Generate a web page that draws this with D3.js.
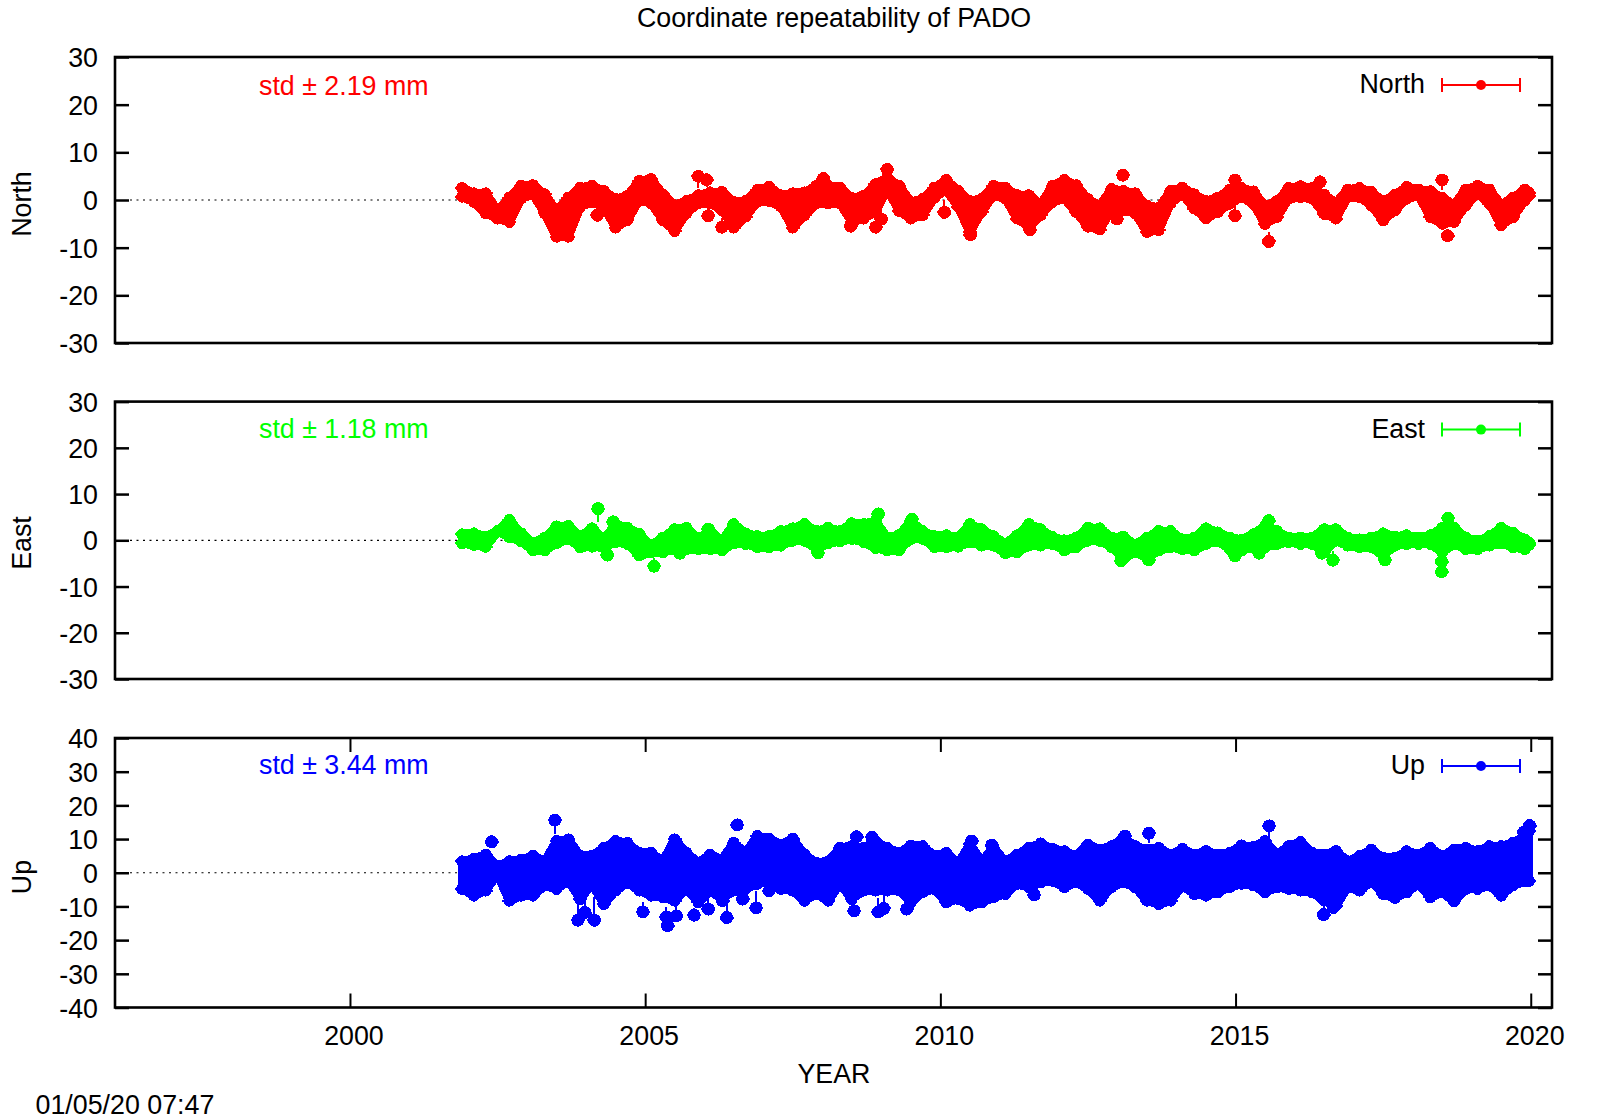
<!DOCTYPE html>
<html>
<head>
<meta charset="utf-8">
<title>Coordinate repeatability of PADO</title>
<script src="https://cdn.jsdelivr.net/npm/d3@7"></script>
<style>
  html, body { margin: 0; background: #fff; }
  text { font-family: "Liberation Sans", Arial, sans-serif; font-size: 26.8px; fill: #000; }
</style>
</head>
<body>
<div id="chart"></div>
<script>
// sampling years of the daily cloud
var years = [2001.9,2002.1,2002.3,2002.5,2002.7,2002.9,2003.1,2003.3,2003.5,2003.7,2003.9,2004.1,2004.3,2004.5,2004.7,2004.9,
  2005.1,2005.3,2005.5,2005.7,2005.9,2006.1,2006.3,2006.5,2006.7,2006.9,2007.1,2007.3,2007.5,2007.7,2007.9,2008.1,
  2008.3,2008.5,2008.7,2008.9,2009.1,2009.3,2009.5,2009.7,2009.9,2010.1,2010.3,2010.5,2010.7,2010.9,2011.1,2011.3,
  2011.5,2011.7,2011.9,2012.1,2012.3,2012.5,2012.7,2012.9,2013.1,2013.3,2013.5,2013.7,2013.9,2014.1,2014.3,2014.5,2014.7,
  2014.9,2015.1,2015.3,2015.5,2015.7,2015.9,2016.1,2016.3,2016.5,2016.7,2016.9,2017.1,2017.3,2017.5,2017.7,2017.9,
  2018.1,2018.3,2018.5,2018.7,2018.9,2019.1,2019.3,2019.5,2019.7,2019.9,2019.97];

var northHigh = [2.5,1.4,1.4,-2.3,.5,3.0,3.1,1.2,-2.3,.5,2.6,3.0,1.9,.2,.9,4.0,
  4.4,1.2,-1.1,-.2,1.0,1.6,1.7,-.4,-.2,2.1,2.8,1.0,1.4,1.6,3.0,3.0,
  2.6,.4,.9,3.3,4.7,3.0,-.4,.2,2.6,4.2,1.9,-.2,.2,3.0,2.6,1.0,
  1.0,-.9,3.0,4.2,3.1,.2,-1.2,2.3,1.9,1.4,-1.2,-1.6,1.9,2.6,1.2,-.2,.5,
  2.2,2.5,1.8,-1.2,-.25,2.5,2.9,2.5,1.15,-.6,2.2,2.5,1.7,-.25,1.15,2.75,
  2.2,1.85,.45,-.95,2.2,3.0,2.2,-.95,.45,2.2,1.5];
var northLow = [.7,-.4,-2.8,-3.9,-4.6,.3,1.2,-2.8,-7.7,-7.7,-1.4,-.4,-1.4,-5.8,-4.2,0,
  -.7,-4.2,-6.5,-2.8,-.7,-.7,-2.1,-5.8,-3.5,-.4,-.2,-1.4,-5.8,-3.2,-.7,-.7,
  -.7,-4.6,-3.9,-2.5,2.4,-2.3,-3.9,-3.2,.5,2.1,-1.4,-6.7,-2.5,1.0,.3,-3.9,
  -5.6,-3.2,-.4,.3,-2.5,-5.6,-6.2,-2.1,-2.1,-2.8,-6.7,-6.3,-.7,1.2,-1.8,-3.9,-2.5,
  -.8,.6,-.8,-5,-3.6,.25,.6,.25,-2.9,-3.9,.6,.6,-1.15,-4.3,-2.2,.25,
  .95,-3.6,-5,-4.6,-1.15,1.3,-.8,-5.3,-3.6,-.1,.9];
// year, value, length of the error bar running back to the cloud
var northOutliers = [[2004.19,-3.2,.5],[2005.90,4.96,2.5],[2006.04,4.27,1.5],[2006.07,-3.3,1.5],[2006.30,-5.7,2],
  [2008.02,4.5,.5],[2008.48,-5.5,.5],[2008.905,-5.7,4],[2009.0,-4.0,3],[2009.10,6.4,1],[2010.07,-2.6,2.5],
  [2010.51,-7.3,1],[2011.52,-6.2,.5],[2012.99,-4.0,2],[2013.09,5.2,1.5],[2014.99,-3.3,2.5],[2014.99,4.2,.5],
  [2015.56,-8.7,2],[2016.43,3.8,.5],[2018.50,4.2,2],[2018.59,-7.5,1]];

var eastHigh = [1.3,1.5,.8,2.0,4.4,1.5,-.5,.6,3.0,3.1,.9,2.6,.2,3.5,2.7,1.4,
  -1.1,.6,2.4,2.7,.4,2.0,-.15,3.5,1.5,.9,.9,2.0,2.6,3.5,2.0,2.7,
  2.0,3.7,3.5,4.2,.6,1.1,4.2,2.0,.9,1.1,.6,3.5,2.4,.9,-.7,1.1,
  3.5,2.4,.7,0,.6,2.7,2.6,.6,.8,-.9,.6,2.0,2.0,.2,.6,2.6,1.7,
  .6,.1,1.3,3.1,2.0,.6,.6,.6,2.4,2.4,.6,.2,.6,1.5,.8,1.1,
  .6,1.1,2.7,2.7,.6,-.15,.9,2.7,1.7,.2,-.5];
var eastLow = [-.65,-1.0,-1.4,1.9,.65,-.2,-2.2,-2.2,-.65,.3,-1.5,-1.4,-1.5,-.4,-.8,-3.3,
  -2.6,-2.6,-1.9,-1.9,-1.9,-1.9,-2.2,-.65,-.8,-1.5,-1.5,-1.15,-.1,-.1,-1.9,-.65,
  -.2,.3,-.4,-1.65,-2.2,-2.2,.3,.3,-1.5,-1.5,-1.4,-.4,-1.15,-1.15,-2.8,-2.6,
  -1.15,-1.15,-.8,-2.2,-1.5,-.1,-.1,-1.5,-4.0,-2.6,-3.8,-2.2,-1.5,-1.9,-2.2,-.8,-.2,
  -1.9,-2.2,-1.5,-1.5,-.8,-.4,-.8,-.8,-2.6,-.1,-1.15,-1.5,-1.5,-3.3,-1.15,-.8,
  -.8,-.8,-2.6,-.8,-1.9,-1.9,-1.15,-.65,-1.5,-1.9,-1.0];
var eastOutliers = [[2004.20,6.85,2.8],[2004.36,-3.2,.5],[2004.46,4.0,.5],[2005.15,-5.6,1.8],[2005.59,-2.8,.5],[2006.07,2.4,1],
  [2007.93,-2.7,.5],[2008.95,5.7,1.2],[2009.52,4.5,.5],[2013.06,-4.4,.5],[2013.53,-4.25,.5],[2014.99,-3.4,.5],
  [2015.40,-2.8,.5],[2015.56,4.25,1],[2016.46,-2.8,.5],[2016.65,-4.3,2],[2017.53,-4.25,.5],[2018.49,-6.8,2],
  [2018.49,-4.6,1],[2018.60,4.75,1]];

var upHigh = [3.4,4.1,5.4,2.0,3.4,3.9,5.0,3.4,9.4,9.9,5.0,5.0,7.4,9.4,8.9,5.9,
  5.9,3.4,9.9,5.9,3.0,5.4,3.9,8.9,5.9,10.9,10.1,8.4,10.1,5.4,3.0,3.4,
  7.4,7.9,7.4,9.4,7.4,5.9,8.1,7.9,5.0,5.9,2.8,8.4,3.4,7.4,3.4,5.4,
  7.4,8.7,7.1,6.4,5.0,8.4,6.9,7.9,10.4,7.9,6.9,7.4,5.4,7.1,5.4,6.4,5.4,
  5.9,8.1,7.6,9.4,5.4,7.9,9.1,5.9,5.4,6.4,3.4,5.0,6.9,4.4,4.4,6.4,
  5.4,7.4,5.0,6.9,7.4,6.4,7.9,7.9,8.9,10.9,12.4];
var upLow = [-4.8,-6.8,-5.3,-.4,-8.3,-6.8,-6.8,-3.8,-4.8,-2.4,-7.8,-3.3,-9.3,-5.3,-2.9,-5.3,
  -6.8,-7.3,-8.3,-4.8,-8.8,-5.3,-7.8,-5.3,-4.8,-3.3,-2.4,-4.8,-5.3,-8.3,-6.3,-8.3,
  -3.3,-7.8,-5.3,-5.3,-5.3,-5.3,-8.8,-5.8,-4.8,-8.8,-7.8,-9.8,-8.8,-7.3,-6.3,-3.3,
  -4.3,-2.9,-2.4,-4.3,-2.9,-4.8,-8.3,-4.3,-2.9,-4.3,-8.3,-9.3,-8.3,-3.8,-6.3,-6.8,-5.8,
  -4.3,-3.3,-3.8,-5.8,-4.3,-4.8,-5.3,-5.8,-8.3,-9.8,-4.3,-5.3,-2.6,-6.3,-7.5,-5.8,
  -3.3,-7.3,-5.8,-8.5,-4.8,-4.8,-3.8,-6.8,-3.8,-2.6,-2.4];
var upOutliers = [[2002.40,9.2,1],[2003.47,15.6,4],[2003.86,-14.1,5],[2003.98,-11.8,5],[2004.14,-14.1,7],[2004.96,-11.6,3],
  [2005.36,-13.1,3],[2005.38,-15.7,2],[2005.53,-12.8,4],[2005.83,-12.6,2],[2006.07,-10.8,3],[2006.31,-8.3,1],
  [2006.38,-13.3,6],[2006.56,14.2,1.5],[2006.65,-7.8,3],[2006.88,-10.4,5],[2007.10,-5.3,1],[2008.54,-11.3,2],
  [2008.58,10.7,1],[2008.84,10.5,1],[2008.95,-11.6,4],[2009.04,-10.6,4],[2009.43,-10.8,1],[2010.53,9.4,2.5],
  [2010.87,8.2,1],[2011.59,-6.6,1],[2013.13,10.9,1],[2013.53,11.7,3],[2015.57,13.9,4],[2016.49,-12.4,2.5],
  [2016.66,-10.3,1],[2019.88,12.0,2],[2019.98,14.0,2]];

var yTicksHoriz = [-30,-20,-10,0,10,20,30];
var yTicksUp = [-40,-30,-20,-10,0,10,20,30,40];
var xTickLabels = [2000,2005,2010,2015,2020];

var width = 1600, height = 1120;
var left = 115, right = 1552;
var markerRadius = 5.5;

var svg = d3.select("#chart").append("svg")
    .attr("width", width)
    .attr("height", height);

var x = d3.scaleLinear().domain([1996.02, 2020.36]).range([left, right]);

function drawPanel(p) {
    var y = d3.scaleLinear().domain(p.yDomain).range([p.bottom, p.top]);
    var g = svg.append("g");

    // zero line sits behind the cloud
    g.append("line")
        .attr("x1", left + 15)
        .attr("x2", x(2020.05))
        .attr("y1", y(0))
        .attr("y2", y(0))
        .attr("stroke", "#000")
        .attr("stroke-width", 1.2)
        .attr("stroke-dasharray", "2 4.5");

    var band = d3.area()
        .x(function(d) { return x(d[0]); })
        .y0(function(d) { return y(d[1]); })
        .y1(function(d) { return y(d[2]); });

    var rows = years.map(function(yr, i) { return [yr, p.low[i], p.high[i]]; });
    var cloud = g.append("g").attr("shape-rendering", "crispEdges");

    cloud.append("path")
        .datum(rows)
        .attr("d", band)
        .attr("fill", p.color)
        .attr("stroke", p.color)
        .attr("stroke-width", 9)
        .attr("stroke-linejoin", "round");

    // caps on the cloud edge, gnuplot errorbars leave these little spikes
    rows.forEach(function(r) {
        [r[1], r[2]].forEach(function(v) {
            cloud.append("line")
                .attr("x1", x(r[0]) - 7)
                .attr("x2", x(r[0]) + 7)
                .attr("y1", y(v))
                .attr("y2", y(v))
                .attr("stroke", p.color)
                .attr("stroke-width", 2);
            cloud.append("circle")
                .attr("cx", x(r[0]))
                .attr("cy", y(v))
                .attr("r", markerRadius + 0.5)
                .attr("fill", p.color);
        });
    });

    p.outliers.forEach(function(o) {
        var back = o[1] > 0 ? o[1] - o[2] : o[1] + o[2];
        cloud.append("line")
            .attr("x1", x(o[0]))
            .attr("x2", x(o[0]))
            .attr("y1", y(o[1]))
            .attr("y2", y(back))
            .attr("stroke", p.color)
            .attr("stroke-width", 2);
        cloud.append("line")
            .attr("x1", x(o[0]) - 7)
            .attr("x2", x(o[0]) + 7)
            .attr("y1", y(o[1]))
            .attr("y2", y(o[1]))
            .attr("stroke", p.color)
            .attr("stroke-width", 2);
        cloud.append("circle")
            .attr("cx", x(o[0]))
            .attr("cy", y(o[1]))
            .attr("r", markerRadius + 1)
            .attr("fill", p.color);
    });

    // axes
    var axisL = d3.axisLeft(y).tickValues(p.yTicks).tickSize(-14).tickPadding(17).tickFormat(String);
    var axisR = d3.axisRight(y).tickValues(p.yTicks).tickSize(-14).tickFormat("");
    var gl = g.append("g").attr("transform", "translate(" + left + ",0)").call(axisL);
    var gr = g.append("g").attr("transform", "translate(" + right + ",0)").call(axisR);
    [gl, gr].forEach(function(a) {
        a.select(".domain").remove();
        a.selectAll("line").attr("stroke", "#000").attr("stroke-width", 2.5);
    });
    gl.selectAll("text").attr("dy", "0.36em");

    if (p.showYears) {
        var axisB = d3.axisBottom(x).tickValues(xTickLabels).tickSize(-14).tickPadding(18.5).tickFormat(String);
        var axisT = d3.axisTop(x).tickValues(xTickLabels).tickSize(-14).tickFormat("");
        var gb = g.append("g").attr("transform", "translate(0," + p.bottom + ")").call(axisB);
        var gt = g.append("g").attr("transform", "translate(0," + p.top + ")").call(axisT);
        [gb, gt].forEach(function(a) {
            a.select(".domain").remove();
            a.selectAll("line").attr("stroke", "#000").attr("stroke-width", 2);
        });
        gb.selectAll("text").attr("dx", 3.5);
    }

    g.append("rect")
        .attr("x", left)
        .attr("y", p.top)
        .attr("width", right - left)
        .attr("height", p.bottom - p.top)
        .attr("fill", "none")
        .attr("stroke", "#000")
        .attr("stroke-width", 2.6);

    g.append("text")
        .attr("x", 259)
        .attr("y", p.top + p.stdOffset)
        .attr("dy", "0.35em")
        .style("fill", p.color)
        .text(p.stdText);

    // key
    var keyY = p.top + 28;
    g.append("text")
        .attr("x", 1425)
        .attr("y", keyY - 1)
        .attr("dy", "0.35em")
        .attr("text-anchor", "end")
        .text(p.name);
    g.append("line").attr("x1", 1442).attr("x2", 1520).attr("y1", keyY).attr("y2", keyY)
        .attr("stroke", p.color).attr("stroke-width", 2);
    [1442, 1520].forEach(function(cx) {
        g.append("line").attr("x1", cx).attr("x2", cx).attr("y1", keyY - 7).attr("y2", keyY + 7)
            .attr("stroke", p.color).attr("stroke-width", 2);
    });
    g.append("circle").attr("cx", 1481).attr("cy", keyY).attr("r", 5).attr("fill", p.color);

    svg.append("text")
        .attr("transform", "translate(" + p.labelX + "," + p.labelY + ") rotate(-90)")
        .attr("text-anchor", "middle")
        .attr("dy", "0.35em")
        .text(p.name);
}

drawPanel({ name: "North", color: "#ff0000", top: 57, bottom: 343, yDomain: [-30, 30], yTicks: yTicksHoriz, stdOffset: 29,
    high: northHigh, low: northLow, outliers: northOutliers, stdText: "std \u00b1 2.19 mm", labelX: 22, labelY: 204 });
drawPanel({ name: "East", color: "#00ff00", top: 401.6, bottom: 679, yDomain: [-30, 30], yTicks: yTicksHoriz, stdOffset: 27,
    high: eastHigh, low: eastLow, outliers: eastOutliers, stdText: "std \u00b1 1.18 mm", labelX: 22, labelY: 543 });
drawPanel({ name: "Up", color: "#0000ff", top: 738, bottom: 1007.5, yDomain: [-40, 40], yTicks: yTicksUp, stdOffset: 27,
    high: upHigh, low: upLow, outliers: upOutliers, stdText: "std \u00b1 3.44 mm", labelX: 22, labelY: 877, showYears: true });

svg.append("text")
    .attr("x", 834)
    .attr("y", 18)
    .attr("dy", "0.35em")
    .attr("text-anchor", "middle")
    .text("Coordinate repeatability of PADO");

svg.append("text")
    .attr("x", 834)
    .attr("y", 1074)
    .attr("dy", "0.35em")
    .attr("text-anchor", "middle")
    .text("YEAR");

svg.append("text")
    .attr("x", 35.5)
    .attr("y", 1105)
    .attr("dy", "0.35em")
    .text("01/05/20 07:47");
</script>
</body>
</html>
